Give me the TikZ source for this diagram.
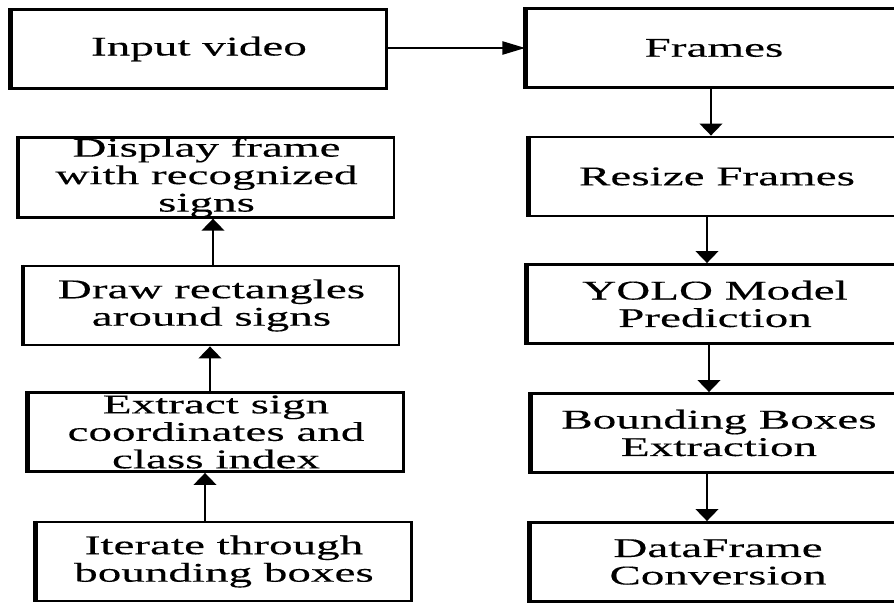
\documentclass[tikz,border=0pt]{standalone}
\usepackage{fontspec}
\setmainfont{Liberation Serif}[FakeStretch=1.74,FakeBold=0.3]
\usetikzlibrary{arrows.meta}
\begin{document}
\begin{tikzpicture}[x=0.75pt,y=-0.75pt,
  box/.style={draw, line width=1.9pt, minimum width=281.5pt, minimum height=59.5pt,
    inner sep=0pt, align=center, font=\fontsize{20.3pt}{20.6pt}\selectfont, text=black},
  varr/.style={-{Triangle[width=17pt,length=9pt]}, line width=1.5pt},
  harr/.style={-{Triangle[width=10pt,length=17pt]}, line width=1pt},
  edge/.style={line width=2.4pt}]
\path[use as bounding box] (0,0) rectangle (894,603);
\clip (0,0) rectangle (894,603);
\fill[white] (0,0) rectangle (894,603);
% left column
\node[box] (L1) at (199,49) {Input video};
\node[box] (L2) at (206.5,177.5) {Display frame\\with recognized\\signs};
\node[box] (L3) at (211.5,305.5) {Draw rectangles\\around signs};
\node[box] (L4) at (216,432) {Extract sign\\coordinates and\\class index};
\node[box] (L5) at (224,561.5) {Iterate through\\bounding boxes};
% right column
\node[box] (R1) at (714,48) {Frames};
\node[box] (R2) at (717,176.5) {Resize Frames};
\node[box] (R3) at (715,304) {YOLO Model\\Prediction};
\node[box] (R4) at (719,433) {Bounding Boxes\\Extraction};
\node[box] (R5) at (718,562) {DataFrame\\Conversion};
% thicker left edges
\foreach \n in {L1,L2,L3,L4,L5,R1,R2,R3,R4,R5}
  \draw[edge] (\n.north west) -- (\n.south west);
% connectors
\draw[harr] (L1.east |- 0,48) -- (R1.west |- 0,48);
\draw[varr] (R1.south -| 711,0) -- (R2.north -| 711,0);
\draw[varr] (R2.south -| 707,0) -- (R3.north -| 707,0);
\draw[varr] (R3.south -| 709,0) -- (R4.north -| 709,0);
\draw[varr] (R4.south -| 707,0) -- (R5.north -| 707,0);
\draw[varr] (L5.north -| 205,0) -- (L4.south -| 205,0);
\draw[varr] (L4.north -| 210,0) -- (L3.south -| 210,0);
\draw[varr] (L3.north -| 213,0) -- (L2.south -| 213,0);
\end{tikzpicture}
\end{document}
